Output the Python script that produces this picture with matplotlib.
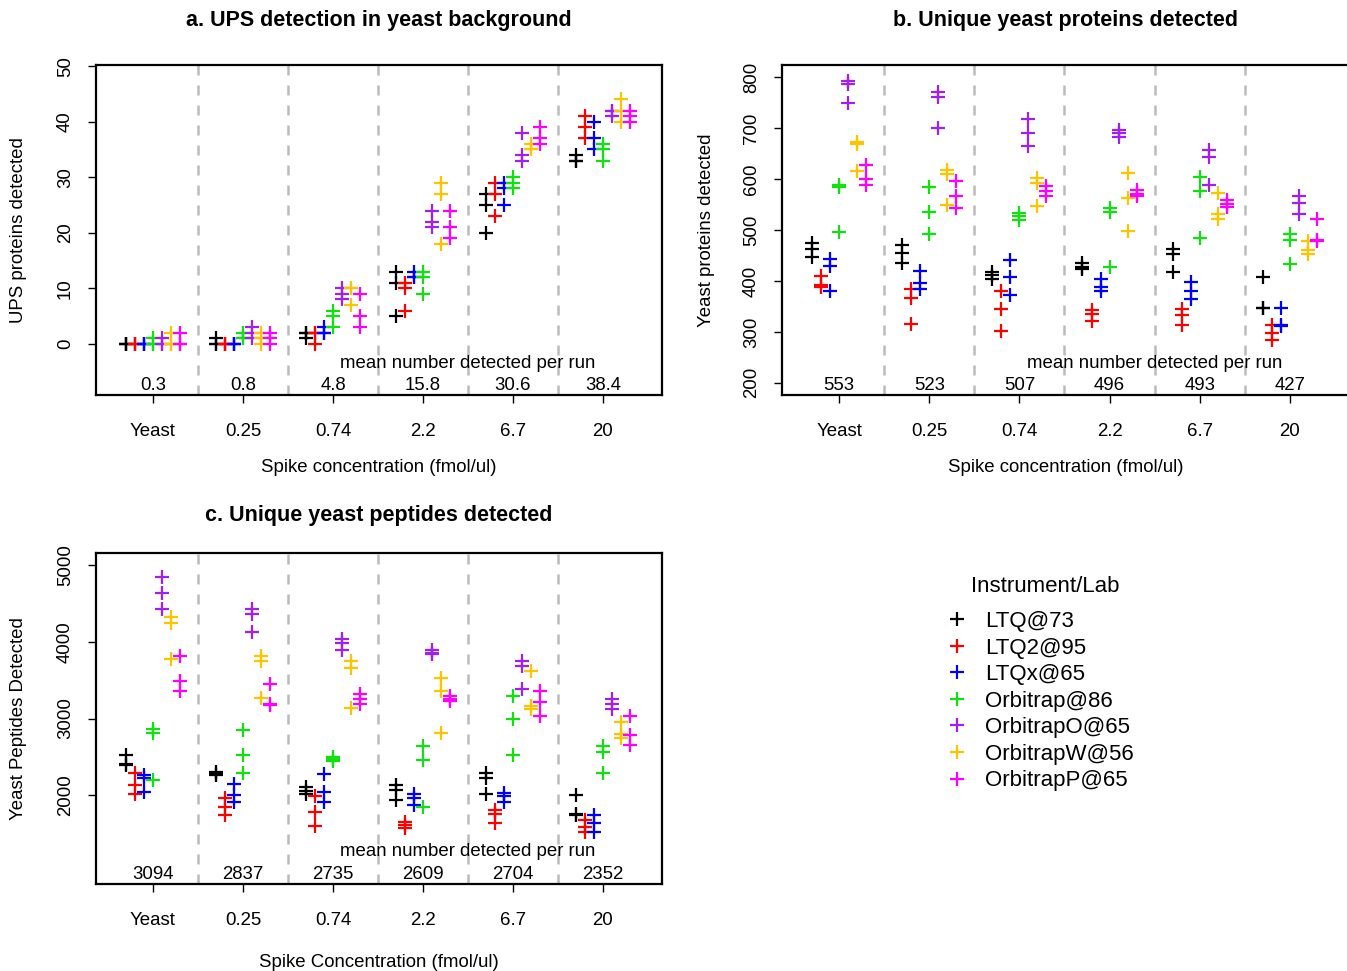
import matplotlib
matplotlib.use("Agg")
import matplotlib.pyplot as plt
from matplotlib.lines import Line2D
import numpy as np

plt.rcParams["font.family"] = ["Liberation Sans", "DejaVu Sans"]

# ------------------------------------------------------------
# dados
# ------------------------------------------------------------
grupos = ["Yeast", "0.25", "0.74", "2.2", "6.7", "20"]
instrumentos = ["LTQ@73", "LTQ2@95", "LTQx@65", "Orbitrap@86",
                "OrbitrapO@65", "OrbitrapW@56", "OrbitrapP@65"]
cores = ["#000000", "#FF0000", "#0000FF", "#11E011",
         "#A020F0", "#FFC400", "#FF00FF"]

# [instrumento][grupo][replicata]
ups = [
    [[0, 0, 0], [0, 1, 0], [2, 1, 2], [13, 11, 5], [27, 25, 20], [34, 33, 33]],
    [[0, 0, 0], [0, 0, 0], [2, 2, 0], [11, 10, 6], [29, 27, 23], [41, 39, 37]],
    [[0, 0, 0], [0, 0, 0], [3, 2, 2], [13, 12, 12], [29, 28, 25], [40, 37, 35]],
    [[0, 1, 0], [1, 2, 1], [6, 5, 3], [13, 12, 9], [30, 29, 28], [36, 35, 33]],
    [[0, 1, 0], [3, 2, 1], [10, 9, 8], [24, 22, 21], [38, 34, 33], [42, 42, 41]],
    [[0, 2, 0], [2, 1, 0], [10, 10, 7], [29, 27, 18], [36, 35, 35], [44, 42, 40]],
    [[0, 2, 0], [2, 1, 0], [9, 5, 3], [24, 21, 19], [39, 37, 36], [42, 41, 40]],
]
proteinas = [
    [[475, 462, 447], [470, 455, 435], [418, 412, 403], [436, 428, 424], [463, 453, 417], [408, 347, 346]],
    [[410, 392, 388], [384, 366, 316], [381, 344, 302], [342, 335, 322], [345, 333, 313], [313, 297, 284]],
    [[443, 430, 381], [420, 395, 385], [441, 407, 372], [404, 388, 380], [398, 381, 365], [346, 314, 312]],
    [[588, 584, 496], [584, 536, 492], [533, 527, 520], [544, 536, 427], [605, 576, 485], [492, 480, 434]],
    [[792, 786, 750], [771, 761, 700], [718, 690, 664], [697, 690, 683], [657, 644, 589], [566, 553, 532]],
    [[672, 668, 615], [618, 610, 550], [602, 592, 548], [612, 563, 498], [573, 531, 522], [478, 460, 452]],
    [[628, 600, 588], [596, 567, 544], [586, 576, 566], [578, 570, 566], [558, 552, 545], [522, 481, 479]],
]
peptideos = [
    [[2530, 2410, 2390], [2300, 2280, 2260], [2100, 2060, 2020], [2130, 2070, 1930], [2285, 2220, 2020], [2005, 1750, 1740]],
    [[2285, 2130, 2020], [1960, 1850, 1740], [1990, 1780, 1600], [1650, 1610, 1570], [1800, 1750, 1630], [1670, 1580, 1520]],
    [[2260, 2220, 2040], [2150, 2000, 1910], [2270, 2040, 1910], [2020, 1960, 1870], [2030, 1990, 1910], [1740, 1630, 1520]],
    [[2860, 2810, 2200], [2855, 2530, 2285], [2500, 2470, 2440], [2640, 2460, 1850], [3290, 2990, 2530], [2640, 2560, 2290]],
    [[4850, 4640, 4430], [4430, 4370, 4130], [4040, 3990, 3890], [3890, 3860, 3840], [3750, 3690, 3380], [3260, 3190, 3120]],
    [[4320, 4240, 3780], [3820, 3750, 3270], [3750, 3660, 3140], [3530, 3360, 2810], [3620, 3160, 3120], [2960, 2800, 2750]],
    [[3820, 3490, 3360], [3450, 3185, 3180], [3320, 3250, 3190], [3290, 3260, 3230], [3360, 3210, 3030], [3030, 2790, 2660]],
]

media_ups = ["0.3", "0.8", "4.8", "15.8", "30.6", "38.4"]
media_prot = ["553", "523", "507", "496", "493", "427"]
media_pep = ["3094", "2837", "2735", "2609", "2704", "2352"]

W, H = 1347, 971
FS = 13.4


def painel(ax, dados, medias, titulo, xlab, ylab, ylim, yticks,
           y_texto, y_media, titulo_off, xlab_y, ylab_x):
    x = np.arange(1, len(grupos) + 1)
    for k, (vals, cor) in enumerate(zip(dados, cores)):
        off = -0.3 + 0.1 * k
        for g, reps in enumerate(vals):
            ax.plot([x[g] + off] * len(reps), reps, ls="none", marker="+",
                    ms=10, mew=1.6, color=cor)
    for xv in x[:-1] + 0.5:
        ax.axvline(xv, color="#BBBBBB", ls=(0, (4, 4)), lw=1.8, zorder=0)
    for g, m in enumerate(medias):
        ax.text(x[g], y_media, m, ha="center", va="center", fontsize=FS)
    ax.text(4.5, y_texto, "mean number detected per run", ha="center",
            va="center", fontsize=FS)
    ax.set_xlim(0.367, 6.656)
    ax.set_ylim(*ylim)
    ax.set_xticks(x)
    ax.set_xticklabels(grupos)
    ax.set_yticks(yticks)
    ax.set_yticklabels([str(v) for v in yticks], rotation=90, va="center")
    ax.tick_params(axis="both", labelsize=FS, length=6, width=1.0)
    ax.tick_params(axis="x", pad=14.5)
    ax.tick_params(axis="y", pad=10)
    for s in ax.spines.values():
        s.set_linewidth(1.6)
    ax.set_xlabel(xlab, fontsize=FS)
    ax.set_ylabel(ylab, fontsize=FS)
    ax.xaxis.set_label_coords(0.5, xlab_y)
    ax.yaxis.set_label_coords(ylab_x, 0.5)
    ax.text(0.5, 1 + titulo_off, titulo, transform=ax.transAxes,
            ha="center", va="center", fontsize=15.5, fontweight="bold")


fig = plt.figure(figsize=(W / 100, H / 100), dpi=100)

ax_a = fig.add_axes([96 / W, 1 - 395 / H, 566 / W, 330 / H])
ax_b = fig.add_axes([782 / W, 1 - 395 / H, 567 / W, 330 / H])
ax_c = fig.add_axes([96 / W, 1 - 884 / H, 566 / W, 331 / H])

painel(ax_a, ups, media_ups, "a. UPS detection in yeast background",
       "Spike concentration (fmol/ul)", "UPS proteins detected",
       (-9.2, 50.2), [0, 10, 20, 30, 40, 50], -3.6, -7.5, 45 / 330,
       -0.194, -0.122)
painel(ax_b, proteinas, media_prot, "b. Unique yeast proteins detected",
       "Spike concentration (fmol/ul)", "Yeast proteins detected",
       (176, 824), [200, 300, 400, 500, 600, 700, 800], 237, 195, 45 / 330,
       -0.194, -0.118)
painel(ax_c, peptideos, media_pep, "c. Unique yeast peptides detected",
       "Spike Concentration (fmol/ul)", "Yeast Peptides Detected",
       (840, 5160), [2000, 3000, 4000, 5000], 1265, 960, 37 / 331,
       -0.212, -0.122)

# legenda
fig.text(1045 / W, 1 - 586 / H, "Instrument/Lab", ha="center", va="center",
         fontsize=16)
handles = [Line2D([], [], ls="none", marker="+", ms=10, mew=1.6, color=c)
           for c in cores]
leg = fig.legend(handles, instrumentos,
                 loc="upper left", bbox_to_anchor=(946 / W, 1 - 611 / H),
                 frameon=False, fontsize=16,
                 handlelength=1.0, handletextpad=0.75, labelspacing=0.25,
                 borderpad=0, borderaxespad=0)

fig.savefig("out.png", dpi=100)
plt.close(fig)
